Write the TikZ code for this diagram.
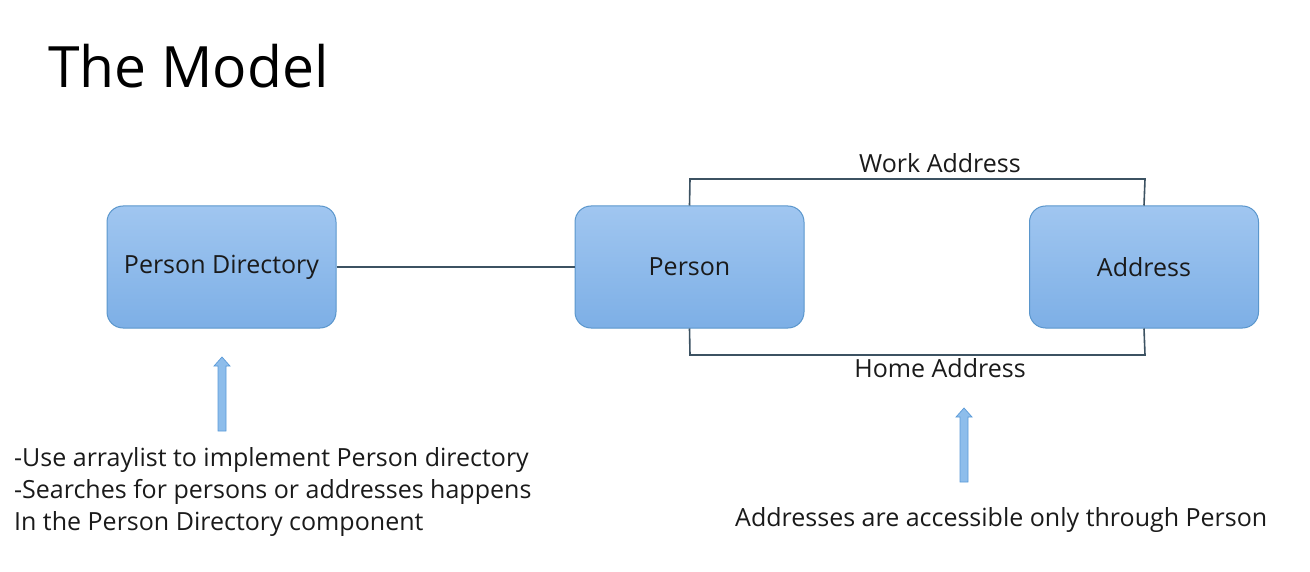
\documentclass[tikz,border=0pt]{standalone}
\usepackage{fontspec}
\setmainfont{Open Sans}
\definecolor{boxtop}{HTML}{A0C6F0}
\definecolor{boxbot}{HTML}{7DAFE6}
\definecolor{boxline}{HTML}{5A96CC}
\definecolor{conn}{HTML}{3C5262}
\definecolor{txt}{HTML}{1A1A1A}
\definecolor{arrfill}{HTML}{8DBDEB}
\definecolor{arrline}{HTML}{5A9AD8}
\newcommand{\blockup}[3]{% x, tip y, bottom y
  \filldraw[draw=arrline,fill=arrfill,line width=0.7pt,line join=miter]
    (#1-4,#3) -- (#1-4,#2+9) -- (#1-8,#2+9) -- (#1,#2) -- (#1+8,#2+9) -- (#1+4,#2+9) -- (#1+4,#3) -- cycle;}
\begin{document}
\begin{tikzpicture}[x=1pt,y=-1pt,
  entity/.style={draw=boxline,line width=1pt,rounded corners=16pt,top color=boxtop,bottom color=boxbot,
    minimum width=229pt,minimum height=122pt,inner sep=0pt,font=\fontsize{25}{30}\selectfont,text=txt},
  link/.style={draw=conn,line width=1.6pt},
  lbl/.style={font=\fontsize{25}{30}\selectfont,text=txt,inner sep=0pt}]
\useasboundingbox (0,0) rectangle (1310,572);
\node[anchor=west,inner sep=0pt,font=\fontsize{57}{68}\selectfont,text=black] (title) at (48,66) {The Model};
\node[entity] (dir) at (221.5,267) {Person Directory};
\node[entity] (person) at (689.5,267) {Person};
\node[entity] (addr) at (1144,267) {Address};
\draw[link] (dir.east) -- (person.west);
\coordinate (wl) at (690,179);
\coordinate (wr) at (1145,179);
\coordinate (hl) at (690,355);
\coordinate (hr) at (1145,355);
\draw[link] (person.north) -- (wl) -- (wr) -- (addr.north);
\draw[link] (person.south) -- (hl) -- (hr) -- (addr.south);
\node[lbl] (work) at (940,163) {Work Address};
\node[lbl] (home) at (940,368) {Home Address};
\blockup{222}{357}{431}
\blockup{964}{408}{482}
\node[lbl,anchor=west,align=left,font=\fontsize{25}{32}\selectfont] (notes) at (14,492)
  {-Use arraylist to implement Person directory\\-Searches for persons or addresses happens\\In the Person Directory component};
\node[lbl,anchor=west] (access) at (735,520) {Addresses are accessible only through Person};
\end{tikzpicture}
\end{document}
